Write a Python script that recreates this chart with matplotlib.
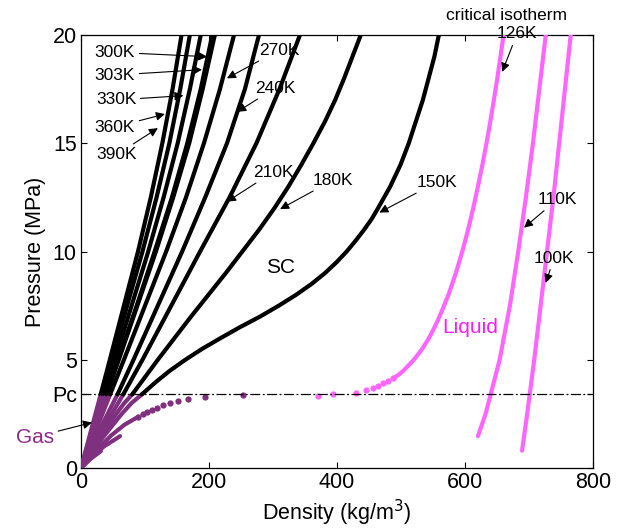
import numpy as np
import matplotlib
matplotlib.use("Agg")
from matplotlib import pyplot as plt

plt.rcParams["font.family"] = ["Liberation Sans", "DejaVu Sans"]

# critical pressure of nitrogen (MPa)
PC = 3.4

# supercritical isotherms: pressure (MPa) grid and density (kg/m3)
p_grid = [0, 1, 2, 3.4, 5, 7.5, 10, 12.5, 15, 17.5, 20]
rho_390 = [0, 9, 18, 30.7, 45, 67, 89, 109, 127, 143, 157]
rho_360 = [0, 9.8, 19.6, 33.2, 49, 72, 96, 118, 138, 155, 170]
rho_330 = [0, 10.7, 21.4, 36.3, 53, 79, 105, 129, 151, 170, 187]
rho_303 = [0, 11.6, 23.2, 39.5, 58, 87, 115, 142, 166, 187, 205]
rho_300 = [0, 11.8, 23.5, 40, 59, 88, 117, 144, 169, 190, 209]
rho_270 = [0, 13.3, 26.7, 45.5, 67, 100, 133, 164, 192, 217, 239]
rho_240 = [0, 16, 33, 57, 82, 120, 158, 194, 228, 256, 278]
rho_210 = [0, 18.5, 38, 66, 96, 141, 186, 232, 274, 310, 342]

p_180 = [0, 0.5, 1, 1.5, 2, 2.5, 3, 3.4, 4, 5, 6, 7, 8, 9, 10, 11, 12, 13, 14,
         15, 16, 17, 18, 19, 20]
rho_180 = [0, 10.2, 20.8, 31.8, 43.2, 55, 67.5, 80, 95, 120, 146, 172, 199, 226,
           252, 278, 302, 324, 344, 363, 381, 397, 411, 424, 437]

p_150 = [0, 0.5, 1, 1.5, 2, 2.5, 3, 3.4, 4, 4.5, 5, 5.5, 6, 6.5, 7, 7.5, 8, 8.5,
         9, 9.5, 10, 10.5, 11, 11.5, 12, 13, 14, 15, 16, 17, 18, 19, 20]
rho_150 = [0, 11.5, 23.5, 36.5, 50, 63.5, 79, 95, 118, 139, 163, 189, 218, 248,
           280, 309, 336, 360, 381, 399, 415, 429, 442, 454, 464, 483, 499, 512,
           523, 534, 543, 552, 559]

# critical isotherm 126K
p_126_gas = [0, 0.5, 1, 1.5, 2, 2.37]
rho_126_gas = [0, 14, 30, 47, 68, 89.6]
p_126_gas_dots = [2.37, 2.49, 2.59, 2.68, 2.79, 2.91, 3.02, 3.09, 3.17, 3.27, 3.37]
rho_126_gas_dots = [89.6, 96.4, 103.6, 110.4, 119, 128.6, 139, 152, 167.7, 193.8, 253.6]
p_126_liq_dots = [3.34, 3.4, 3.48, 3.6, 3.71, 3.8, 3.91, 4.02, 4.15]
rho_126_liq_dots = [370, 394, 430, 445, 456, 464, 472, 480, 488]
p_126_liq = [4.15, 4.3, 4.5, 5, 5.5, 6, 6.5, 7, 8, 9, 10, 11, 12, 13, 14, 15,
             16, 17, 18, 19, 20]
rho_126_liq = [488, 495.8, 503.8, 520, 533, 543.5, 552.3, 560.2, 574, 585.5,
               595.6, 604.6, 612.7, 620, 627, 633.4, 639.4, 645, 650.3, 655.3, 660]

# subcritical isotherms 110K and 100K
p_110_gas = [0, 0.5, 1.0, 1.47]
rho_110_gas = [0, 16.5, 36, 61]
p_110_liq = [1.47, 2.5, 5, 7.5, 10, 12.5, 15, 17.5, 20]
rho_110_liq = [620, 632, 654, 670, 683, 695, 706, 716, 726]
p_100_gas = [0, 0.4, 0.78]
rho_100_gas = [0, 14, 31]
p_100_liq = [0.8, 2.5, 5, 7.5, 10, 12.5, 15, 17.5, 20]
rho_100_liq = [689, 697, 708, 718, 728, 738, 747, 756, 765]

PURPLE = "#7f307f"
MAGENTA = "#ff66ff"
LW = 3.0

fig = plt.figure(figsize=(6.33, 5.29), dpi=100)
ax = fig.add_axes([0.128, 0.1153, 0.809, 0.8185])


def plot_sc(rho, p):
    rho = np.asarray(rho, float)
    p = np.asarray(p, float)
    low = p <= PC
    high = p >= PC
    ax.plot(rho[low], p[low], color=PURPLE, lw=LW, solid_capstyle="round",
            solid_joinstyle="round", zorder=3)
    ax.plot(rho[high], p[high], color="k", lw=LW, solid_capstyle="round",
            solid_joinstyle="round", zorder=3)


for r in [rho_390, rho_360, rho_330, rho_303, rho_300, rho_270, rho_240, rho_210]:
    plot_sc(r, p_grid)
plot_sc(rho_180, p_180)
plot_sc(rho_150, p_150)

line_kw = dict(lw=LW, solid_capstyle="round", solid_joinstyle="round", zorder=3)

# critical isotherm
ax.plot(rho_126_gas, p_126_gas, color=PURPLE, **line_kw)
ax.plot(rho_126_gas_dots, p_126_gas_dots, "o", color=PURPLE, ms=4.5, mec="none", zorder=3)
ax.plot(rho_126_liq_dots, p_126_liq_dots, "o", color=MAGENTA, ms=4.5, mec="none", zorder=3)
ax.plot(rho_126_liq, p_126_liq, color=MAGENTA, **line_kw)

# subcritical
ax.plot(rho_110_gas, p_110_gas, color=PURPLE, **line_kw)
ax.plot(rho_100_gas, p_100_gas, color=PURPLE, **line_kw)
ax.plot(rho_110_liq, p_110_liq, color=MAGENTA, **line_kw)
ax.plot(rho_100_liq, p_100_liq, color=MAGENTA, **line_kw)

# critical pressure line
ax.axhline(PC, color="k", lw=0.9, ls=(0, (8, 2, 1.5, 2)), zorder=4)

ax.set_xlim(0, 800)
ax.set_ylim(0, 20)
ax.set_xticks([0, 200, 400, 600, 800])
ax.set_yticks([0, PC, 5, 10, 15, 20])
ax.set_yticklabels(["0", "Pc", "5", "10", "15", "20"])
ax.tick_params(direction="in", top=True, right=True, length=4, width=0.8,
               labelsize=15.5, pad=3)
for s in ax.spines.values():
    s.set_linewidth(0.9)
ax.set_xlabel("Density (kg/m$^3$)", fontsize=15.5, labelpad=3)
ax.set_ylabel("Pressure (MPa)", fontsize=15.5, labelpad=4)

arrow = dict(arrowstyle="-|>", color="k", lw=0.8, mutation_scale=13, shrinkA=1, shrinkB=0)
labels = [
    ("300K", (197, 19.0), (53, 19.2)),
    ("303K", (189, 18.4), (53, 18.15)),
    ("330K", (160, 17.2), (55, 17.0)),
    ("360K", (131, 16.35), (53, 15.75)),
    ("390K", (120, 15.7), (55, 14.46)),
    ("270K", (228, 18.0), (309, 19.3)),
    ("240K", (244, 16.45), (303, 17.55)),
    ("210K", (228, 12.3), (300, 13.67)),
    ("180K", (311, 11.96), (394, 13.3)),
    ("150K", (466, 11.8), (556, 13.2)),
    ("126K", (658, 18.3), (681, 20.05)),
    ("110K", (692, 11.1), (744, 12.4)),
    ("100K", (726, 8.55), (739, 9.7)),
]
for txt, tip, pos in labels:
    ax.annotate(txt, xy=tip, xytext=pos, ha="center", va="center", fontsize=12.5,
                arrowprops=arrow, annotation_clip=False, zorder=5)

ax.text(664, 20.9, "critical isotherm", ha="center", va="center", fontsize=12.5,
        clip_on=False)
ax.text(312, 9.24, "SC", ha="center", va="center", fontsize=15)
ax.text(608, 6.47, "Liquid", ha="center", va="center", fontsize=15, color="#ff1aff")
ax.annotate("Gas", xy=(17, 2.1), xytext=(-72, 1.43), ha="center", va="center",
            fontsize=15, color="#8b2b8b", arrowprops=arrow, annotation_clip=False)

fig.savefig("out.png", dpi=100)
